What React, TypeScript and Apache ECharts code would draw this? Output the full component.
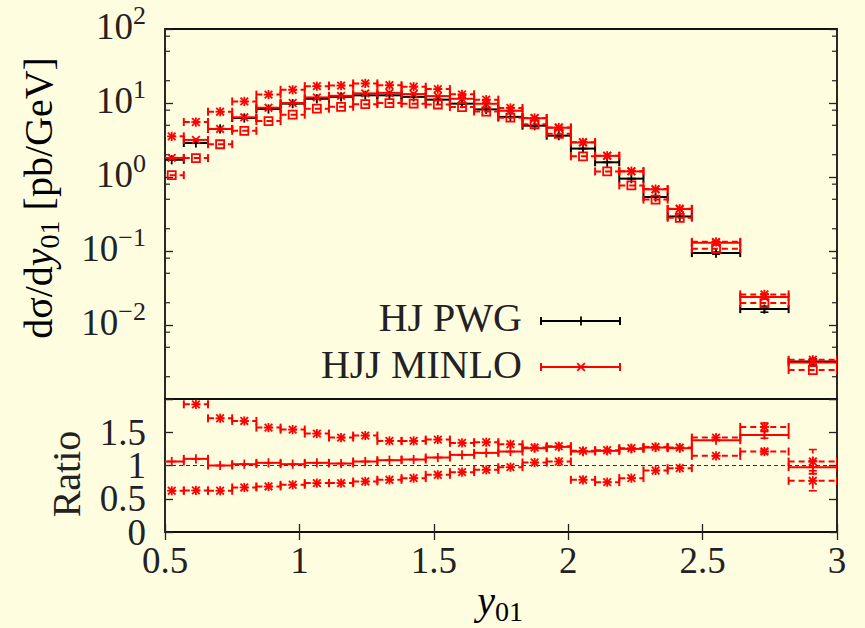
import React, { useEffect, useRef } from 'react';
import * as echarts from 'echarts';

// ---- bins (y01) ----
const binLo = [0.48, 0.57, 0.66, 0.75, 0.84, 0.93, 1.02, 1.11, 1.2, 1.29, 1.38, 1.47, 1.56, 1.65, 1.74, 1.83, 1.92, 2.01, 2.1, 2.19, 2.28, 2.37, 2.46, 2.64, 2.82];
const binHi = [0.57, 0.66, 0.75, 0.84, 0.93, 1.02, 1.11, 1.2, 1.29, 1.38, 1.47, 1.56, 1.65, 1.74, 1.83, 1.92, 2.01, 2.1, 2.19, 2.28, 2.37, 2.46, 2.64, 2.82, 3.0];

// ---- top panel: dsigma/dy01 [pb/GeV] ----
const hjPwg = [1.71, 2.88, 4.46, 6.28, 8.3, 9.8, 11.4, 12.1, 12.7, 12.7, 12.1, 11.1, 9.8, 8.2, 6.49, 4.94, 3.62, 2.42, 1.58, 0.95, 0.536, 0.293, 0.0937, 0.0164, 0.0032];
const hjPwgErr = [0, 0, 0, 0, 0, 0, 0, 0, 0, 0, 0, 0, 0, 0, 0, 0, 0, 0, 0, 0, 0, 0, 0.003, 0.0015, 0.0003];
const minloCentral = [1.81, 3.17, 4.46, 6.41, 8.63, 10.0, 11.9, 12.5, 13.5, 13.7, 13.2, 12.4, 11.4, 9.76, 7.85, 6.22, 4.63, 2.93, 1.93, 1.19, 0.681, 0.369, 0.129, 0.0239, 0.00312];
const minloUp = [3.54, 5.53, 7.63, 10.5, 13.0, 15.1, 16.9, 17.2, 18.4, 17.4, 16.6, 15.4, 13.1, 11.1, 8.57, 6.27, 4.67, 2.95, 1.94, 1.2, 0.686, 0.372, 0.133, 0.0259, 0.00339];
const minloDown = [1.06, 1.8, 2.77, 4.21, 5.69, 6.96, 8.38, 8.89, 9.65, 9.97, 9.8, 9.55, 8.82, 7.67, 6.33, 5.16, 3.84, 1.9, 1.19, 0.77, 0.496, 0.281, 0.107, 0.0198, 0.00246];

// ---- bottom panel: ratios to HJ PWG ----
const ratioCentral = [1.06, 1.1, 1.0, 1.02, 1.04, 1.02, 1.04, 1.03, 1.06, 1.08, 1.09, 1.12, 1.16, 1.19, 1.21, 1.26, 1.28, 1.21, 1.22, 1.25, 1.27, 1.26, 1.38, 1.46, 0.975];
const ratioUp = [2.07, 1.92, 1.71, 1.67, 1.57, 1.54, 1.48, 1.42, 1.45, 1.37, 1.37, 1.39, 1.34, 1.35, 1.32, 1.27, 1.29, 1.22, 1.23, 1.26, 1.28, 1.27, 1.42, 1.58, 1.06];
const ratioDown = [0.62, 0.625, 0.62, 0.67, 0.685, 0.71, 0.735, 0.735, 0.76, 0.785, 0.81, 0.86, 0.9, 0.935, 0.975, 1.045, 1.06, 0.785, 0.75, 0.81, 0.925, 0.96, 1.145, 1.21, 0.77];
const ratioCentralErr = [0, 0, 0, 0, 0, 0, 0, 0, 0, 0, 0, 0, 0, 0, 0, 0, 0, 0, 0, 0, 0, 0, 0, 0.05, 0.1];
const ratioUpErr = [0, 0, 0, 0, 0, 0, 0, 0, 0, 0, 0, 0, 0, 0, 0, 0, 0, 0, 0, 0, 0, 0, 0, 0.06, 0.18];
const ratioDownErr = [0, 0, 0, 0, 0, 0, 0, 0, 0, 0, 0, 0, 0, 0, 0, 0, 0, 0, 0, 0, 0, 0, 0, 0.03, 0.15];
const ratioReference = 1;

// ---- axes ----
const xTicks = { min: 0.5, max: 3, interval: 0.5 };
const ratioTicks = { min: 0, max: 2, interval: 0.5 };
const logRange = { min: 0.001, max: 100 };
const logMinorMultipliers = [2, 5, 8];

const legendNames = ['HJ PWG', 'HJJ MINLO'];

const BG = '#FEFDE0';
const INK = '#222';
const RED = '#FF0000';
const SERIF = 'Liberation Serif';

type Marker = '+' | 'x' | '*' | 'square';

function markerShapes(mx: number, my: number, marker: Marker, color: string) {
  const st = { stroke: color, lineWidth: 1.8, fill: null };
  const s = 4.6;
  const d = 3.8;
  const out: any[] = [];
  if (marker === '+' || marker === '*') {
    out.push({ type: 'line', shape: { x1: mx - s, y1: my, x2: mx + s, y2: my }, style: st });
    out.push({ type: 'line', shape: { x1: mx, y1: my - s, x2: mx, y2: my + s }, style: st });
  }
  if (marker === 'x' || marker === '*') {
    out.push({ type: 'line', shape: { x1: mx - d, y1: my - d, x2: mx + d, y2: my + d }, style: st });
    out.push({ type: 'line', shape: { x1: mx - d, y1: my + d, x2: mx + d, y2: my - d }, style: st });
  }
  if (marker === 'square') {
    out.push({ type: 'rect', shape: { x: mx - 4, y: my - 4, width: 8, height: 8 }, style: { stroke: color, lineWidth: 1.8, fill: 'none' } });
  }
  return out;
}

function histSeries(name: string, values: number[], errs: number[] | null, opt: { color: string; dashed: boolean; marker: Marker; xAxisIndex: number; yAxisIndex: number; z?: number }) {
  const data = values.map((v, i) => [binLo[i], binHi[i], v, errs ? errs[i] : 0]);
  return {
    type: 'custom',
    name,
    xAxisIndex: opt.xAxisIndex,
    yAxisIndex: opt.yAxisIndex,
    clip: true,
    silent: true,
    z: opt.z ?? 2,
    encode: { x: [0, 1], y: 2 },
    data,
    renderItem: (params: any, api: any) => {
      const lo = api.value(0);
      const hi = api.value(1);
      const y = api.value(2);
      const err = api.value(3);
      const c = (lo + hi) / 2;
      const a = api.coord([lo, y]);
      const b = api.coord([hi, y]);
      const m = api.coord([c, y]);
      const w = 2;
      const children: any[] = [
        { type: 'line', shape: { x1: a[0], y1: a[1], x2: b[0], y2: b[1] }, style: { stroke: opt.color, lineWidth: w, lineDash: opt.dashed ? [6, 4] : null } },
        { type: 'line', shape: { x1: a[0], y1: a[1] - 4, x2: a[0], y2: a[1] + 4 }, style: { stroke: opt.color, lineWidth: w } },
        { type: 'line', shape: { x1: b[0], y1: b[1] - 4, x2: b[0], y2: b[1] + 4 }, style: { stroke: opt.color, lineWidth: w } },
      ];
      if (err > 0) {
        const t = api.coord([c, y + err]);
        const d = api.coord([c, Math.max(y - err, 1e-9)]);
        children.push({ type: 'line', shape: { x1: t[0], y1: t[1], x2: d[0], y2: d[1] }, style: { stroke: opt.color, lineWidth: 1.6, lineDash: opt.dashed ? [4, 3] : null } });
        children.push({ type: 'line', shape: { x1: t[0] - 4, y1: t[1], x2: t[0] + 4, y2: t[1] }, style: { stroke: opt.color, lineWidth: 1.6 } });
        children.push({ type: 'line', shape: { x1: d[0] - 4, y1: d[1], x2: d[0] + 4, y2: d[1] }, style: { stroke: opt.color, lineWidth: 1.6 } });
      }
      children.push(...markerShapes(m[0], m[1], opt.marker, opt.color));
      return { type: 'group', children };
    },
  };
}

const minorTickValues: number[] = [];
for (let e = Math.round(Math.log10(logRange.min)); e < Math.round(Math.log10(logRange.max)); e++) {
  for (const k of logMinorMultipliers) minorTickValues.push(k * Math.pow(10, e));
}

const tickLabelRich = {
  b: { fontFamily: SERIF, fontSize: 37, color: INK, lineHeight: 48, verticalAlign: 'middle' },
  s: { fontFamily: SERIF, fontSize: 26, color: INK, lineHeight: 26, verticalAlign: 'top' },
};

function logLabel(v: number) {
  const e = Math.round(Math.log10(v));
  if (e <= Math.round(Math.log10(logRange.min))) return '';
  return `{b|10}{s|${e < 0 ? '\u2212' + -e : e}}`;
}

// labels of the ratio axis: all but the end values on one axis, the minimum on a twin axis
function ratioLabel(v: number) {
  return v <= ratioTicks.min || v >= ratioTicks.max ? '' : String(v);
}
function ratioMinLabel(v: number) {
  return v === ratioTicks.min ? String(v) : '';
}

const tickStyle = { show: true, inside: true, length: 8, lineStyle: { color: INK, width: 1.3 } };
const numLabel = { fontFamily: SERIF, fontSize: 37, color: INK };

const titleRich = {
  n: { fontFamily: SERIF, fontSize: 40, color: INK, lineHeight: 40, verticalAlign: 'top' },
  i: { fontFamily: SERIF, fontStyle: 'italic', fontSize: 40, color: INK, lineHeight: 40, verticalAlign: 'top' },
  s: { fontFamily: SERIF, fontSize: 28, color: INK, lineHeight: 45, verticalAlign: 'bottom' },
};

const ratioAxisBase = { type: 'value', gridIndex: 1, min: ratioTicks.min, max: ratioTicks.max, interval: ratioTicks.interval, axisLine: { show: false }, splitLine: { show: false } };

const option: any = {
  animation: false,
  backgroundColor: BG,
  grid: [
    { left: 165, top: 29, width: 672, height: 370, show: true, borderColor: '#111', borderWidth: 1.8, backgroundColor: 'transparent' },
    { left: 165, top: 399, width: 672, height: 133, show: true, borderColor: '#111', borderWidth: 1.8, backgroundColor: 'transparent' },
  ],
  xAxis: [
    { type: 'value', gridIndex: 0, min: xTicks.min, max: xTicks.max, interval: xTicks.interval, axisLine: { show: false }, axisTick: { show: false }, axisLabel: { show: false }, splitLine: { show: false } },
    { type: 'value', gridIndex: 1, position: 'bottom', min: xTicks.min, max: xTicks.max, interval: xTicks.interval, axisLine: { show: false }, axisTick: tickStyle, axisLabel: { ...numLabel, margin: 10, showMinLabel: true, showMaxLabel: true }, splitLine: { show: false } },
    { type: 'value', gridIndex: 1, position: 'top', min: xTicks.min, max: xTicks.max, interval: xTicks.interval, axisLine: { show: false }, axisTick: tickStyle, axisLabel: { show: false }, splitLine: { show: false } },
  ],
  yAxis: [
    { type: 'log', gridIndex: 0, logBase: 10, min: logRange.min, max: logRange.max, splitNumber: 5, position: 'left', axisLine: { show: false }, axisTick: tickStyle, splitLine: { show: false }, axisLabel: { margin: 19, padding: [0, 0, 6, 0], formatter: logLabel, rich: tickLabelRich, showMinLabel: true, showMaxLabel: true } },
    { type: 'log', gridIndex: 0, logBase: 10, min: logRange.min, max: logRange.max, splitNumber: 5, position: 'right', axisLine: { show: false }, axisTick: tickStyle, splitLine: { show: false }, axisLabel: { show: false } },
    { ...ratioAxisBase, position: 'left', axisTick: tickStyle, axisLabel: { ...numLabel, margin: 19, padding: [0, 0, 6, 0], showMinLabel: true, showMaxLabel: true, formatter: ratioLabel } },
    { ...ratioAxisBase, position: 'right', axisTick: tickStyle, axisLabel: { show: false } },
    { ...ratioAxisBase, position: 'left', offset: 0, axisTick: { show: false }, axisLabel: { ...numLabel, margin: 19, padding: [0, 0, 6, 0], showMinLabel: true, showMaxLabel: true, formatter: ratioMinLabel } },
  ],
  series: [
    {
      type: 'custom',
      xAxisIndex: 0,
      yAxisIndex: 0,
      silent: true,
      encode: { x: 0, y: 1 },
      data: minorTickValues.map((v) => [xTicks.min, v]),
      renderItem: (params: any, api: any) => {
        const p = api.coord([api.value(0), api.value(1)]);
        const cs = params.coordSys;
        return {
          type: 'group',
          children: [
            { type: 'line', shape: { x1: cs.x, y1: p[1], x2: cs.x + 5, y2: p[1] }, style: { stroke: INK, lineWidth: 1.2 } },
            { type: 'line', shape: { x1: cs.x + cs.width, y1: p[1], x2: cs.x + cs.width - 5, y2: p[1] }, style: { stroke: INK, lineWidth: 1.2 } },
          ],
        };
      },
    },
    {
      type: 'line',
      xAxisIndex: 1,
      yAxisIndex: 2,
      silent: true,
      symbol: 'none',
      data: [[xTicks.min, ratioReference], [xTicks.max, ratioReference]],
      lineStyle: { color: '#333', width: 1, type: [4, 3] },
      z: 1,
    },
    histSeries('HJ PWG', hjPwg, hjPwgErr, { color: '#000', dashed: false, marker: '+', xAxisIndex: 0, yAxisIndex: 0, z: 2 }),
    histSeries('HJJ MINLO', minloCentral, null, { color: RED, dashed: false, marker: 'x', xAxisIndex: 0, yAxisIndex: 0, z: 3 }),
    histSeries('HJJ MINLO up', minloUp, null, { color: RED, dashed: true, marker: '*', xAxisIndex: 0, yAxisIndex: 0, z: 3 }),
    histSeries('HJJ MINLO down', minloDown, null, { color: RED, dashed: true, marker: 'square', xAxisIndex: 0, yAxisIndex: 0, z: 3 }),
    histSeries('ratio', ratioCentral, ratioCentralErr, { color: RED, dashed: false, marker: '+', xAxisIndex: 1, yAxisIndex: 2, z: 3 }),
    histSeries('ratio up', ratioUp, ratioUpErr, { color: RED, dashed: true, marker: '*', xAxisIndex: 1, yAxisIndex: 2, z: 3 }),
    histSeries('ratio down', ratioDown, ratioDownErr, { color: RED, dashed: true, marker: '*', xAxisIndex: 1, yAxisIndex: 2, z: 3 }),
  ],
  graphic: [
    // y-axis title (top panel)
    {
      type: 'text',
      x: 41,
      y: 198,
      rotation: Math.PI / 2,
      style: {
        text: '{n|d\u03C3/d}{i|y}{s|01}{n| [pb/GeV]}',
        align: 'center',
        verticalAlign: 'middle',
        rich: titleRich,
      },
    },
    // y-axis title (ratio panel)
    {
      type: 'text',
      x: 66,
      y: 474,
      rotation: Math.PI / 2,
      style: { text: 'Ratio', align: 'center', verticalAlign: 'middle', fontFamily: SERIF, fontSize: 40, fill: INK },
    },
    // x-axis title
    {
      type: 'text',
      x: 500,
      y: 603,
      style: {
        text: '{i|y}{s|01}',
        align: 'center',
        verticalAlign: 'middle',
        rich: titleRich,
      },
    },
    // legend
    { type: 'text', x: 522, y: 317, style: { text: legendNames[0], align: 'right', verticalAlign: 'middle', fontFamily: SERIF, fontSize: 40, fill: INK } },
    { type: 'text', x: 522, y: 364, style: { text: legendNames[1], align: 'right', verticalAlign: 'middle', fontFamily: SERIF, fontSize: 40, fill: INK } },
    {
      type: 'group',
      children: [
        { type: 'line', shape: { x1: 541, y1: 321, x2: 620, y2: 321 }, style: { stroke: '#000', lineWidth: 2 } },
        { type: 'line', shape: { x1: 541, y1: 317, x2: 541, y2: 325 }, style: { stroke: '#000', lineWidth: 2 } },
        { type: 'line', shape: { x1: 620, y1: 317, x2: 620, y2: 325 }, style: { stroke: '#000', lineWidth: 2 } },
        ...markerShapes(581, 321, '+', '#000'),
        { type: 'line', shape: { x1: 541, y1: 367, x2: 620, y2: 367 }, style: { stroke: RED, lineWidth: 2 } },
        { type: 'line', shape: { x1: 541, y1: 363, x2: 541, y2: 371 }, style: { stroke: RED, lineWidth: 2 } },
        { type: 'line', shape: { x1: 620, y1: 363, x2: 620, y2: 371 }, style: { stroke: RED, lineWidth: 2 } },
        ...markerShapes(581, 367, 'x', RED),
      ],
    },
  ],
};

export default function App() {
  const ref = useRef<HTMLDivElement>(null);
  useEffect(() => {
    if (!ref.current) return;
    const chart = echarts.init(ref.current, null, { renderer: 'svg' });
    chart.setOption(option);
    return () => {
      chart.dispose();
    };
  }, []);
  return <div ref={ref} style={{ position: 'fixed', left: 0, top: 0, width: 865, height: 628, background: BG }} />;
}
